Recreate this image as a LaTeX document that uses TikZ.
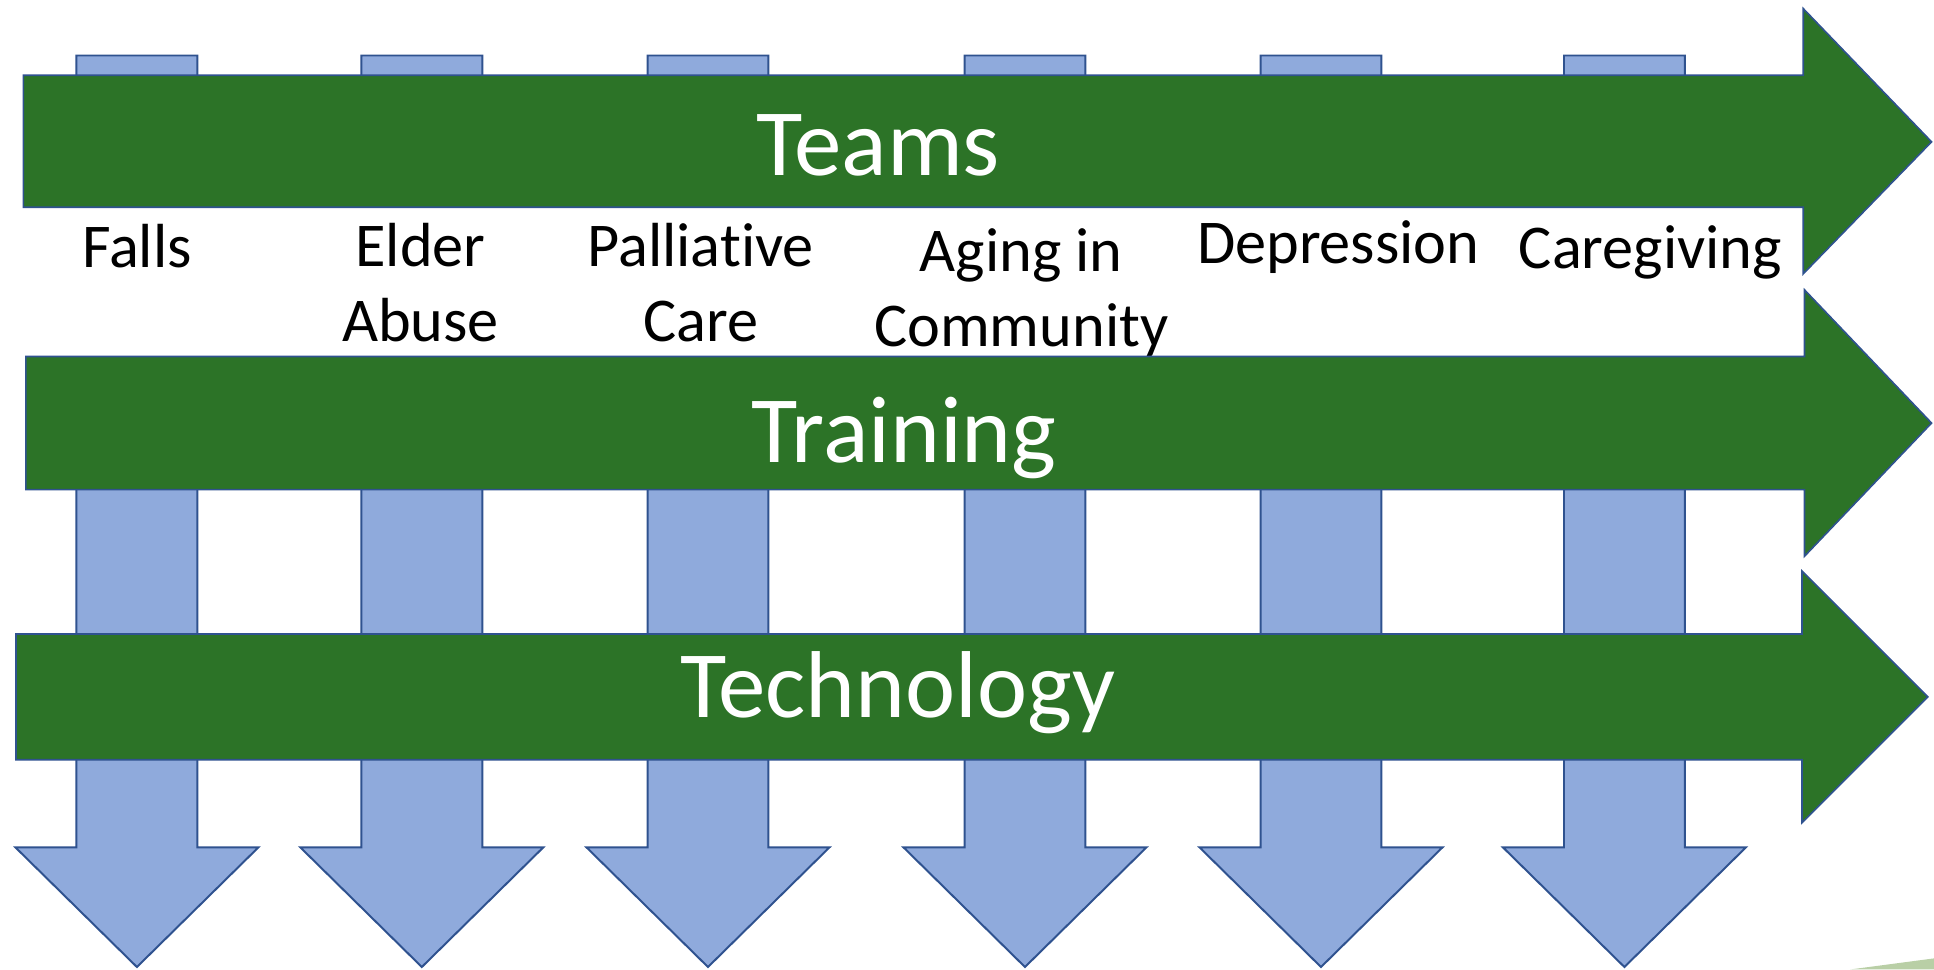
\documentclass[tikz,border=0pt]{standalone}
\usepackage{fontspec}
\setmainfont[Ligatures=NoCommon]{Carlito}
\definecolor{darkgreen}{HTML}{2C7327}
\definecolor{lightblue}{HTML}{8FAADC}
\definecolor{edgeblue}{HTML}{2F528F}
\definecolor{palegreen}{HTML}{B9CFA6}
\tikzset{
  bandarrow/.style={fill=darkgreen, draw=edgeblue, line width=1.3pt, line join=miter},
  downarrow/.style={fill=lightblue, draw=edgeblue, line width=1.6pt, line join=miter},
  biglabel/.style={text=white, font=\fontsize{77}{90}\selectfont, anchor=base, inner sep=0pt},
  smalllabel/.style={text=black, font=\fontsize{50.5}{61}\selectfont, anchor=base, inner sep=0pt, align=center}
}
\begin{document}
\begin{tikzpicture}[x=1pt,y=-1pt]
\useasboundingbox (0,0) rectangle (1568,786);
% blue down arrows
\foreach \c in {111,342,574,831,1071,1317}{
  \draw[downarrow] (\c-49,45) -- (\c+49,45) -- (\c+49,687) -- (\c+98.5,687) -- (\c,784)
     -- (\c-98.5,687) -- (\c-49,687) -- cycle;
}
% white label band
\fill[white] (0,168.5) rectangle (1461.5,288.5);
\node[smalllabel] (falls) at (111,217) {Falls};
\node[smalllabel] (elder) at (341,277) {Elder\\Abuse};
\node[smalllabel] (pall) at (568,277) {Palliative\\Care};
\node[smalllabel] (aging) at (828,281) {Aging in\\Community};
\node[smalllabel] (dep) at (1085,214) {Depression};
\node[smalllabel] (care) at (1338,218) {Caregiving};
% green band arrows
\draw[bandarrow] (19,61) -- (1462,61) -- (1462,7) -- (1566,115) -- (1462,222) -- (1462,168) -- (19,168) -- cycle;
\draw[bandarrow] (21,289) -- (1463,289) -- (1463,235) -- (1566,343) -- (1463,451) -- (1463,397) -- (21,397) -- cycle;
\draw[bandarrow] (13,514) -- (1461,514) -- (1461,463) -- (1563,565) -- (1461,667) -- (1461,616) -- (13,616) -- cycle;
\node[biglabel] (teams) at (712,142) {Teams};
\node[biglabel] (training) at (733,375) {Training};
\node[biglabel] (tech) at (728,582) {Technology};
% corner sliver
\fill[palegreen] (1500,786) -- (1568,777) -- (1568,786) -- cycle;
\end{tikzpicture}
\end{document}
